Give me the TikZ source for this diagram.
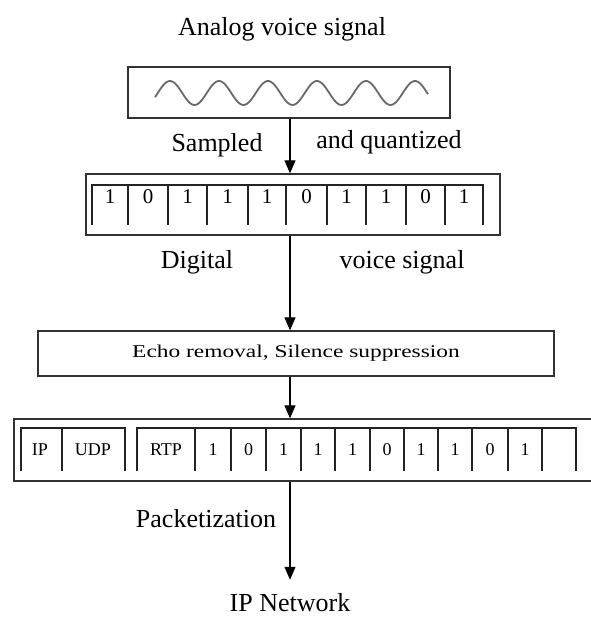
\documentclass[tikz,border=0pt]{standalone}
\usepackage{fontspec}
\setmainfont{Liberation Serif}
\newfontfamily\echofont[FakeStretch=1.3]{Liberation Serif}
\usetikzlibrary{arrows.meta}
\definecolor{cFRAME}{RGB}{50,50,50}
\definecolor{cWAVE}{RGB}{105,105,105}
\definecolor{cCELL}{RGB}{35,35,35}

\begin{document}
\begin{tikzpicture}[x=1pt,y=-1pt,
  boxframe/.style={draw=cFRAME,line width=1.3pt,inner sep=0pt},
  caption/.style={anchor=base,inner sep=0pt,font=\fontsize{26}{30}\selectfont},
  cell/.style={draw=cCELL,line width=1.2pt},
  bitA/.style={inner sep=0pt,font=\fontsize{21}{24}\selectfont},
  bitB/.style={inner sep=0pt,font=\fontsize{18}{20}\selectfont},
  flow/.style={draw=black,line width=1.2pt,-{Triangle[length=13pt,width=11pt]}}]
\useasboundingbox (0,0) rectangle (590,617);
\coordinate (spine) at (290,0);
% analog part
\node[caption] (title) at (282,36) {Analog voice signal};
\node[boxframe,minimum width=322pt,minimum height=51pt] (analog) at (289,92.5) {};
\draw[cWAVE,line width=1.8pt,domain=155:428,samples=140,smooth] plot (\x,{93-12*cos((\x-170)/49*360)});
\node[caption] (sampled) at (217,152) {Sampled};
\node[caption] (quant) at (389,149) {and quantized};
% digital part
\node[boxframe,minimum width=414pt,minimum height=61pt] (digital) at (293,204.5) {};
\draw[cell] (92,225) -- (92,185) -- (483,185) -- (483,225)
  (128,185) -- (128,225) (168,185) -- (168,225) (207,185) -- (207,225)
  (248,185) -- (248,225) (286,185) -- (286,225) (327,185) -- (327,225)
  (366,185) -- (366,225) (406,185) -- (406,225) (445,185) -- (445,225);
\node[bitA] (d1) at (110,197) {1};
\node[bitA] (d2) at (148,197) {0};
\node[bitA] (d3) at (187.5,197) {1};
\node[bitA] (d4) at (227.5,197) {1};
\node[bitA] (d5) at (267,197) {1};
\node[bitA] (d6) at (306.5,197) {0};
\node[bitA] (d7) at (346.5,197) {1};
\node[bitA] (d8) at (386,197) {1};
\node[bitA] (d9) at (425.5,197) {0};
\node[bitA] (d10) at (464,197) {1};
\node[caption] (dig) at (197,268) {Digital};
\node[caption] (voice) at (402,268) {voice signal};
% processing
\node[boxframe,minimum width=516pt,minimum height=45pt,font=\echofont\fontsize{18}{20}\selectfont] (echo) at (296,353.5) {Echo removal, Silence suppression};
% packet
\node[boxframe,minimum width=578pt,minimum height=62pt] (packet) at (303,450) {};
\draw[cell] (21,471) -- (21,428) -- (125,428) -- (125,471) (62,428) -- (62,471);
\draw[cell] (137,471) -- (137,428) -- (576,428) -- (576,471)
  (195,428) -- (195,471) (231,428) -- (231,471) (266,428) -- (266,471)
  (301,428) -- (301,471) (335,428) -- (335,471) (370,428) -- (370,471)
  (404,428) -- (404,471) (438,428) -- (438,471) (472,428) -- (472,471)
  (508,428) -- (508,471) (542,428) -- (542,471);
\draw[cell,line width=2pt] (137,428) -- (542,428);
\node[bitB] (ip) at (40,450) {IP};
\node[bitB] (udp) at (93,450) {UDP};
\node[bitB] (rtp) at (166,450) {RTP};
\node[bitB] (p1) at (213,450) {1};
\node[bitB] (p2) at (248.5,450) {0};
\node[bitB] (p3) at (283.5,450) {1};
\node[bitB] (p4) at (318,450) {1};
\node[bitB] (p5) at (352.5,450) {1};
\node[bitB] (p6) at (387,450) {0};
\node[bitB] (p7) at (421,450) {1};
\node[bitB] (p8) at (455,450) {1};
\node[bitB] (p9) at (490,450) {0};
\node[bitB] (p10) at (525,450) {1};
\node[caption] (pack) at (206,527) {Packetization};
\node[caption] (network) at (290,611) {IP Network};
% arrows
\draw[flow] (analog.south -| spine) -- (digital.north -| spine);
\draw[flow] (digital.south -| spine) -- (echo.north -| spine);
\draw[flow] (echo.south -| spine) -- (packet.north -| spine);
\draw[flow,shorten >=13pt] (packet.south -| spine) -- (network.north -| spine);
\end{tikzpicture}
\end{document}
